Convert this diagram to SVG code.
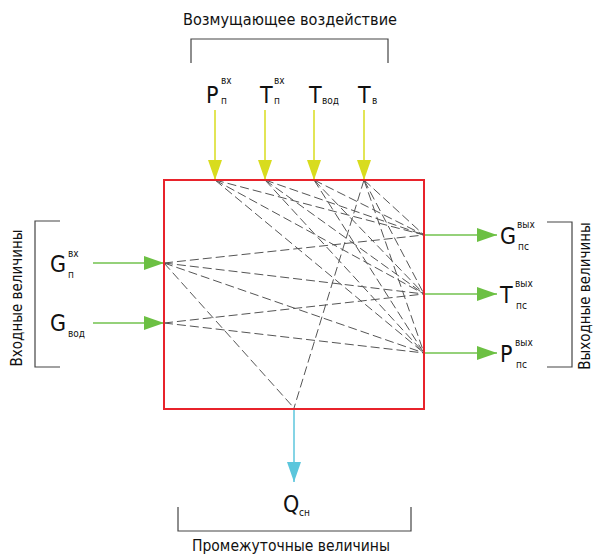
<svg xmlns="http://www.w3.org/2000/svg" width="595" height="555" viewBox="0 0 595 555">
<defs>
<style>
.t{font-family:"DejaVu Sans Condensed","DejaVu Sans",sans-serif;fill:#111}
.big{font-size:23px}
.sm{font-size:10px}
.lbl{font-size:15px}
.br{fill:none;stroke:#444;stroke-width:1.2}
.d{stroke:#555;stroke-width:1;stroke-dasharray:9 4;fill:none}
.y{stroke:#d8dc1e;stroke-width:1.5}
.g{stroke:#72c24e;stroke-width:1.5}
.c{stroke:#5cc6dc;stroke-width:1.5}
</style>
<marker id="my" viewBox="0 0 20 14" refX="20" refY="7" markerWidth="20" markerHeight="14" markerUnits="userSpaceOnUse" orient="auto"><path d="M0,0 L20,7 L0,14 Z" fill="#d8dc1e"/></marker>
<marker id="mg" viewBox="0 0 20 14" refX="20" refY="7" markerWidth="20" markerHeight="14" markerUnits="userSpaceOnUse" orient="auto"><path d="M0,0 L20,7 L0,14 Z" fill="#6cc043"/></marker>
<marker id="mc" viewBox="0 0 20 14" refX="20" refY="7" markerWidth="20" markerHeight="14" markerUnits="userSpaceOnUse" orient="auto"><path d="M0,0 L20,7 L0,14 Z" fill="#5cc6dc"/></marker>
</defs>
<rect width="595" height="555" fill="#fff"/>

<g id="connectors">
<g id="dashed">
<line class="d" x1="215" y1="180" x2="424" y2="235"/>
<line class="d" x1="215" y1="180" x2="424" y2="294"/>
<line class="d" x1="215" y1="180" x2="424" y2="353"/>
<line class="d" x1="265" y1="180" x2="424" y2="235"/>
<line class="d" x1="265" y1="180" x2="424" y2="294"/>
<line class="d" x1="265" y1="180" x2="424" y2="353"/>
<line class="d" x1="314" y1="180" x2="424" y2="235"/>
<line class="d" x1="314" y1="180" x2="424" y2="294"/>
<line class="d" x1="314" y1="180" x2="424" y2="353"/>
<line class="d" x1="364" y1="180" x2="424" y2="235"/>
<line class="d" x1="364" y1="180" x2="424" y2="294"/>
<line class="d" x1="364" y1="180" x2="424" y2="353"/>
<line class="d" x1="364" y1="180" x2="294" y2="408"/>
<line class="d" x1="164" y1="263" x2="424" y2="235"/>
<line class="d" x1="164" y1="263" x2="424" y2="294"/>
<line class="d" x1="164" y1="263" x2="424" y2="353"/>
<line class="d" x1="164" y1="263" x2="294" y2="408"/>
<line class="d" x1="164" y1="323" x2="424" y2="294"/>
<line class="d" x1="164" y1="323" x2="424" y2="353"/>
</g>
<line class="y" x1="215" y1="110" x2="215" y2="180" marker-end="url(#my)"/>
<line class="y" x1="265" y1="110" x2="265" y2="180" marker-end="url(#my)"/>
<line class="y" x1="314" y1="110" x2="314" y2="180" marker-end="url(#my)"/>
<line class="y" x1="364" y1="110" x2="364" y2="180" marker-end="url(#my)"/>
<line class="g" x1="93" y1="263" x2="164" y2="263" marker-end="url(#mg)"/>
<line class="g" x1="93" y1="323" x2="164" y2="323" marker-end="url(#mg)"/>
<line class="g" x1="424" y1="235" x2="497" y2="235" marker-end="url(#mg)"/>
<line class="g" x1="424" y1="294" x2="497" y2="294" marker-end="url(#mg)"/>
<line class="g" x1="424" y1="353" x2="497" y2="353" marker-end="url(#mg)"/>
<line class="c" x1="294" y1="409" x2="294" y2="482" marker-end="url(#mc)"/>
</g>

<g id="system">
<rect x="164" y="180" width="260" height="229" fill="none" stroke="#e8232b" stroke-width="2"/>
</g>

<g id="top-group">
<text class="t lbl" x="290" y="25" text-anchor="middle" textLength="214" lengthAdjust="spacingAndGlyphs">Возмущающее воздействие</text>
<path class="br" d="M191,63 V39 H388 V63"/>
</g>

<g id="Pn"><text class="t big" x="206" y="103">P</text><text class="t sm" x="221" y="84">вх</text><text class="t sm" x="221" y="104">п</text></g>
<g id="Tn"><text class="t big" x="260" y="103">T</text><text class="t sm" x="274" y="84">вх</text><text class="t sm" x="274" y="104">п</text></g>
<g id="Tvod"><text class="t big" x="309" y="103">T</text><text class="t sm" x="322" y="104">вод</text></g>
<g id="Tv"><text class="t big" x="358" y="103">T</text><text class="t sm" x="372" y="104">в</text></g>

<g id="inputs-group">
<path class="br" d="M60,221 H35 V367 H60"/>
<text class="t lbl" transform="translate(22,298) rotate(-90)" text-anchor="middle">Входные величины</text>
</g>
<g id="Gn"><text class="t big" x="50" y="272">G</text><text class="t sm" x="68" y="257">вх</text><text class="t sm" x="68" y="278">п</text></g>
<g id="Gvod"><text class="t big" x="50" y="331">G</text><text class="t sm" x="68" y="337">вод</text></g>

<g id="outputs-group">
<path class="br" d="M547,222 H572 V367 H547"/>
<text class="t lbl" transform="translate(590,296) rotate(-90)" text-anchor="middle">Выходные величины</text>
</g>
<g id="Gps"><text class="t big" x="500" y="244">G</text><text class="t sm" x="517" y="228">вых</text><text class="t sm" x="518" y="250">пс</text></g>
<g id="Tps"><text class="t big" x="500" y="303">T</text><text class="t sm" x="515" y="287">вых</text><text class="t sm" x="516" y="309">пс</text></g>
<g id="Pps"><text class="t big" x="500" y="362">P</text><text class="t sm" x="515" y="346">вых</text><text class="t sm" x="516" y="368">пс</text></g>

<g id="intermediate-group">
<path class="br" d="M178,507 V531 H411 V507"/>
<text class="t lbl" x="291" y="551" text-anchor="middle" textLength="198" lengthAdjust="spacingAndGlyphs">Промежуточные величины</text>
</g>
<g id="Qsn"><text class="t big" x="283" y="512">Q</text><text class="t sm" x="299" y="516">сн</text></g>
</svg>
